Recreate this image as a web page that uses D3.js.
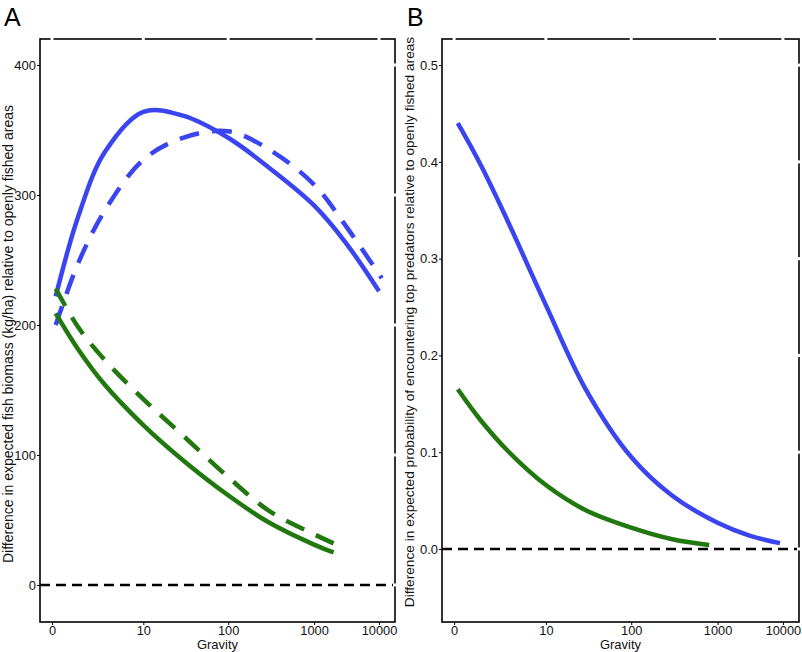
<!DOCTYPE html>
<html>
<head>
<meta charset="utf-8">
<script src="https://cdn.jsdelivr.net/npm/d3@7"></script>
<style>
  body { margin: 0; background: #fff; }
  svg { display: block; font-family: "Liberation Sans", Arial, sans-serif; }
</style>
</head>
<body>
<svg width="802" height="652"></svg>
<script>
'use strict';

// ---- data ----
var gravityTicks = [0, 10, 100, 1000, 10000];

// panel A: fish biomass (kg/ha)
var biomassTicks = [0, 100, 200, 300, 400];
var gravA = [0.1, 1, 3, 10, 30, 100, 300, 1000, 3000, 10000];
var gravADash = [0.1, 1, 3, 10, 30, 100, 300, 1000, 3000, 11000];
var blueSolidA = [222, 284, 333, 364, 361, 344, 321, 292, 264, 226];
var blueDashA = [200, 248, 288, 327, 344, 349, 335, 308, 277, 236];
var gravAGreen = [0.1, 1, 3, 10, 30, 100, 300, 1000, 2000];
var greenSolidA = [209, 181, 154, 123, 96, 69, 48, 31, 25];
var greenDashA = [228, 198, 173, 143, 115, 83, 57, 39, 32];

// panel B: probability of top predators
var probTicks = [0, 0.1, 0.2, 0.3, 0.4, 0.5];
var gravBBlue = [0.1, 1, 3, 10, 30, 100, 300, 1000, 3000, 9000];
var blueB = [0.44, 0.397, 0.34, 0.252, 0.165, 0.095, 0.055, 0.027, 0.014, 0.006];
var gravBGreen = [0.1, 1, 3, 10, 30, 100, 300, 800];
var greenB = [0.165, 0.133, 0.102, 0.066, 0.040, 0.022, 0.010, 0.004];

var BLUE = '#3a44ef';
var GREEN = '#21780f';

var svg = d3.select('svg');

// x axis is log10(gravity + 1), the tick spacing of the original is a bit uneven
var tickFrac = [0.034, 0.291, 0.53, 0.772, 0.955];

function drawPanel(opt) {
    var left = opt.left, right = opt.right, top = 39, bottom = 622;
    var g = svg.append('g');

    var x = d3.scaleLinear()
        .domain(gravityTicks.map(function (v) { return Math.log10(v + 1); }))
        .range(tickFrac.map(function (f) { return left + f * (right - left); }));
    var gx = function (v) { return x(Math.log10(v + 1)); };

    var y = d3.scaleLinear().domain(opt.yDomain).range([bottom, top]);

    // zero reference line
    g.append('line')
        .attr('x1', left).attr('x2', right)
        .attr('y1', y(0)).attr('y2', y(0))
        .attr('stroke', '#000').attr('stroke-width', 2.5)
        .attr('stroke-dasharray', '10,6');

    var line = d3.line()
        .x(function (d) { return gx(d[0]); })
        .y(function (d) { return y(d[1]); })
        .curve(d3.curveCatmullRom.alpha(0.5));

    opt.series.forEach(function (s) {
        g.append('path')
            .datum(d3.zip(s.gravity, s.values))
            .attr('d', line)
            .attr('fill', 'none')
            .attr('stroke', s.color)
            .attr('stroke-width', 4.5)
            .attr('stroke-dasharray', s.dash ? '20,13' : null);
    });

    // box
    g.append('rect')
        .attr('x', left).attr('y', top)
        .attr('width', right - left).attr('height', bottom - top)
        .attr('fill', 'none').attr('stroke', '#000').attr('stroke-width', 1.6);

    // white tick gaps on top and right borders
    g.selectAll('.topgap').data(gravityTicks).enter().append('line')
        .attr('x1', gx).attr('x2', gx)
        .attr('y1', top - 2).attr('y2', top + 2)
        .attr('stroke', '#fff').attr('stroke-width', 3);
    g.selectAll('.rightgap').data(opt.yTicks).enter().append('line')
        .attr('x1', right - 2).attr('x2', right + 2)
        .attr('y1', y).attr('y2', y)
        .attr('stroke', '#fff').attr('stroke-width', 3);

    // left axis
    var yAxis = d3.axisLeft(y).tickValues(opt.yTicks).tickSize(3).tickPadding(1)
        .tickFormat(opt.yFormat);
    var ga = g.append('g').attr('transform', 'translate(' + left + ',0)').call(yAxis);
    ga.select('.domain').remove();
    ga.selectAll('text').attr('font-size', 13).attr('fill', '#111')
        .attr('font-family', '"Liberation Sans", Arial, sans-serif');
    ga.selectAll('line').attr('stroke', '#000');

    // bottom axis
    var xAxis = d3.axisBottom(x)
        .tickValues(gravityTicks.map(function (v) { return Math.log10(v + 1); }))
        .tickSize(3).tickPadding(1)
        .tickFormat(function (d, i) { return gravityTicks[i]; });
    var gb = g.append('g').attr('transform', 'translate(0,' + bottom + ')').call(xAxis);
    gb.select('.domain').remove();
    gb.selectAll('text').attr('font-size', 12.8).attr('fill', '#111')
        .attr('font-family', '"Liberation Sans", Arial, sans-serif');
    gb.selectAll('line').attr('stroke', '#000');

    g.append('text')
        .attr('x', (left + right) / 2).attr('y', 649)
        .attr('text-anchor', 'middle').attr('font-size', 13).attr('fill', '#111')
        .text('Gravity');

    g.append('text')
        .attr('transform', 'translate(' + opt.labelX + ',' + opt.labelY + ') rotate(-90)')
        .attr('text-anchor', 'middle').attr('font-size', opt.labelSize).attr('fill', '#111')
        .text(opt.yLabel);

    g.append('text')
        .attr('x', opt.letterX).attr('y', 26)
        .attr('font-size', 25).attr('fill', '#000')
        .text(opt.letter);
}

drawPanel({
    left: 40, right: 395,
    yDomain: [-28.5, 420],
    yTicks: biomassTicks,
    yFormat: d3.format('d'),
    labelX: 13, labelY: 334, labelSize: 14,
    letterX: 4,
    letter: 'A',
    yLabel: 'Difference in expected fish biomass (kg/ha) relative to openly fished areas',
    series: [
        { gravity: gravA, values: blueSolidA, color: BLUE, dash: false },
        { gravity: gravADash, values: blueDashA, color: BLUE, dash: true },
        { gravity: gravAGreen, values: greenSolidA, color: GREEN, dash: false },
        { gravity: gravAGreen, values: greenDashA, color: GREEN, dash: true }
    ]
});

drawPanel({
    left: 442, right: 799,
    yDomain: [-0.0755, 0.527],
    yTicks: probTicks,
    yFormat: d3.format('.1f'),
    labelX: 414, labelY: 322, labelSize: 13.7,
    letterX: 407,
    letter: 'B',
    yLabel: 'Difference in expected probability of encountering top predators relative to openly fished areas',
    series: [
        { gravity: gravBBlue, values: blueB, color: BLUE, dash: false },
        { gravity: gravBGreen, values: greenB, color: GREEN, dash: false }
    ]
});
</script>
</body>
</html>
